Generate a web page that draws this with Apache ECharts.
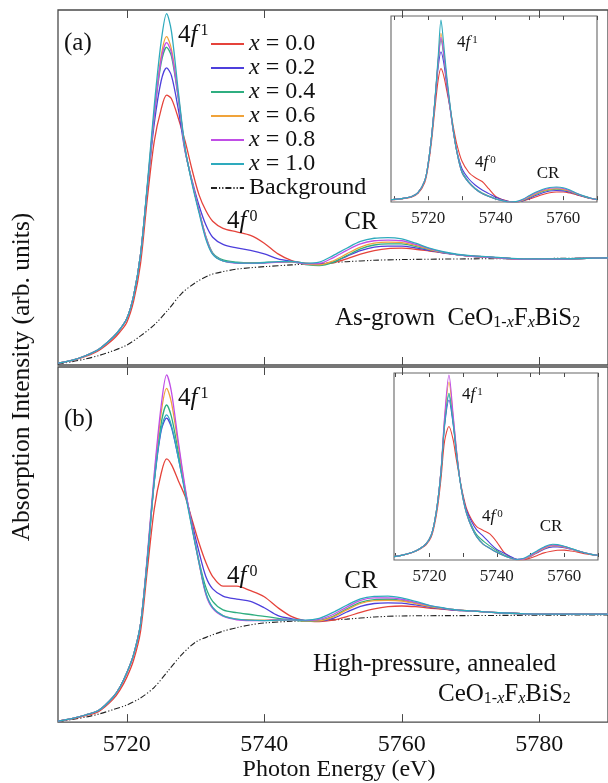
<!DOCTYPE html>
<html><head><meta charset="utf-8">
<script src="https://cdn.jsdelivr.net/npm/echarts@6/dist/echarts.min.js"></script>
<style>html,body{margin:0;padding:0;background:#fff}#c{width:608px;height:783px}</style>
</head><body><div id="c"></div>
<script>
const FONT = '"Liberation Serif","Times New Roman",serif';
const xTicksMain = [5720, 5740, 5760, 5780];
const xTicksInset = [5710, 5720, 5730, 5740, 5750, 5760, 5770];
const xLabelsInset = [5720, 5740, 5760];
const compositions = ['0.0', '0.2', '0.4', '0.6', '0.8', '1.0'];
const colors = ['#e5433b', '#4d3fdc', '#2fae80', '#f0a33a', '#c04ee6', '#2eaabd'];

const energyMain = [5710, 5712, 5714, 5716, 5718, 5719, 5720, 5721, 5722, 5723, 5724, 5725, 5725.8, 5726.5, 5727.5, 5728.5, 5729.5, 5730.5, 5731.5, 5732.5, 5734, 5736, 5738, 5740, 5742, 5744, 5746, 5748, 5750, 5752, 5754, 5756, 5758, 5760, 5762, 5764, 5766, 5768, 5770, 5774, 5778, 5782, 5786, 5790];
const energyBg = [5710, 5712, 5714, 5716, 5718, 5720, 5722, 5724, 5726, 5728, 5730, 5732, 5734, 5736, 5738, 5740, 5744, 5748, 5752, 5756, 5760, 5770, 5780, 5790];

// Panel (a): as-grown
const a_x00 = [0.5, 1.2, 2.4, 4.2, 7.2, 9.3, 12, 18, 28.5, 47, 63, 72, 76, 75, 69.5, 63, 55, 48, 43.5, 40.5, 38.5, 37.5, 36.5, 34.3, 31.3, 29.4, 28.7, 28.5, 28.8, 29.9, 31.2, 32.2, 32.8, 32.9, 32.6, 32.1, 31.6, 31.1, 30.7, 30.2, 29.8, 29.8, 30.0, 30.2];
const a_x02 = [0.5, 1.3, 2.6, 4.5, 7.8, 10, 13, 19.5, 31, 50, 68, 80, 83.7, 81.5, 72, 60, 52, 45, 39.5, 36, 34, 33, 32.3, 31.3, 29.9, 29.2, 28.5, 28.4, 29.0, 30.6, 32.2, 33.2, 33.5, 33.5, 33.0, 32.3, 31.6, 31.1, 30.7, 30.2, 29.8, 29.8, 30.0, 30.2];
const a_x04 = [0.5, 1.3, 2.6, 4.5, 7.8, 10, 13, 19.5, 31, 50, 70, 85, 89.5, 87, 75, 60.5, 51.5, 43.5, 36.3, 31.6, 29.6, 29.0, 28.8, 28.9, 29.0, 29.0, 28.3, 28.0, 28.9, 30.8, 32.7, 33.8, 34.1, 34.1, 33.4, 32.5, 31.7, 31.1, 30.7, 30.2, 29.8, 29.8, 30.0, 30.2];
const a_x06 = [0.5, 1.3, 2.6, 4.5, 7.8, 10, 13, 19.5, 31, 50.5, 71, 87, 92.5, 89, 76, 60.5, 51.5, 43.5, 36, 31.3, 29.3, 28.8, 28.7, 28.8, 29.0, 29.1, 28.4, 28.2, 29.3, 31.3, 33.2, 34.3, 34.6, 34.5, 33.7, 32.6, 31.7, 31.1, 30.7, 30.2, 29.8, 29.8, 30.0, 30.2];
const a_x08 = [0.5, 1.3, 2.6, 4.5, 7.8, 10, 13, 19.5, 31, 50.5, 70.5, 86, 90.8, 88, 75.5, 60.5, 51.5, 43.5, 36, 31.3, 29.3, 28.7, 28.6, 28.7, 29.0, 29.1, 28.5, 28.6, 30.2, 32.3, 34.1, 35.0, 35.2, 35.0, 34.0, 32.8, 31.8, 31.1, 30.7, 30.2, 29.8, 29.8, 30.0, 30.2];
const a_x10 = [0.5, 1.3, 2.6, 4.5, 7.8, 10, 13, 19.5, 31, 51, 73, 91, 99, 94, 77, 61, 51, 43, 35.5, 31.2, 29.3, 28.8, 28.7, 28.8, 29.1, 29.2, 28.7, 29.0, 30.8, 32.9, 34.8, 35.7, 35.9, 35.5, 34.3, 32.9, 31.9, 31.2, 30.8, 30.3, 29.9, 29.9, 30.0, 30.2];
const a_bg = [0.3, 0.9, 1.7, 2.7, 4.0, 5.6, 8.2, 11.3, 15.5, 20.2, 23.2, 25.3, 26.3, 27.0, 27.4, 27.7, 28.2, 28.6, 29.1, 29.5, 29.7, 29.9, 30.0, 30.1];

// Panel (b): high-pressure, annealed
const b_x00 = [0.3, 0.9, 1.8, 3.1, 6.4, 9.0, 12.6, 17.5, 25.5, 43, 60, 70, 74.1, 72.5, 68, 63.5, 57, 50.5, 45, 41, 38.3, 38.3, 37, 35.3, 32.2, 29.7, 28.5, 28.3, 28.7, 29.7, 30.9, 31.9, 32.5, 32.7, 32.5, 32.1, 31.8, 31.5, 31.3, 30.8, 30.5, 30.4, 30.4, 30.4];
const b_x02 = [0.3, 1.0, 2.0, 3.4, 7.0, 9.8, 13.8, 19, 27.5, 46, 67.5, 82, 85.6, 83, 74.5, 65, 56, 48, 41, 37.5, 35.5, 34.6, 34.0, 32.2, 30.0, 29.1, 28.6, 28.5, 29.2, 31.0, 32.6, 33.4, 33.6, 33.5, 33.0, 32.4, 31.9, 31.5, 31.3, 30.8, 30.5, 30.4, 30.4, 30.4];
const b_x04 = [0.3, 1.0, 2.0, 3.4, 7.0, 9.8, 13.8, 19, 27.5, 46, 68, 84, 89.3, 86, 76, 65, 55, 45.5, 38, 34, 31.6, 30.8, 30.3, 29.8, 29.2, 28.8, 28.4, 28.6, 29.8, 31.9, 33.7, 34.5, 34.6, 34.3, 33.5, 32.6, 32.0, 31.6, 31.3, 30.8, 30.5, 30.4, 30.4, 30.4];
const b_x06 = [0.3, 1.0, 2.0, 3.4, 7.0, 9.8, 13.8, 19, 27.5, 46.5, 69, 87, 94, 90, 78, 65.5, 55, 45, 36.3, 32.2, 30.0, 29.0, 28.8, 28.7, 28.8, 28.8, 28.5, 28.5, 29.6, 31.6, 33.4, 34.2, 34.3, 34.1, 33.4, 32.6, 32.0, 31.6, 31.3, 30.8, 30.5, 30.4, 30.4, 30.4];
const b_x08 = [0.3, 1.0, 2.0, 3.4, 7.0, 9.8, 13.8, 19, 27.5, 47, 70, 89, 97.8, 93, 79, 66, 55, 45, 36, 32, 29.8, 28.8, 28.6, 28.6, 28.8, 28.8, 28.6, 28.9, 30.3, 32.4, 34.3, 35.0, 35.0, 34.6, 33.7, 32.8, 32.1, 31.6, 31.3, 30.8, 30.5, 30.4, 30.4, 30.4];
const b_x10 = [0.3, 1.0, 2.0, 3.4, 7.0, 9.8, 13.8, 19, 27.5, 46, 68, 82.5, 86.5, 83.5, 74.5, 64.5, 54.5, 45, 36.5, 32.3, 30.0, 29.0, 28.7, 28.6, 28.7, 28.8, 28.7, 29.2, 30.9, 32.9, 34.7, 35.4, 35.5, 35.0, 34.0, 32.9, 32.2, 31.6, 31.3, 30.8, 30.5, 30.4, 30.4, 30.4];
const b_bg = [0.2, 0.7, 1.4, 2.3, 3.5, 4.8, 6.8, 9.8, 14.4, 19.0, 22.5, 24.2, 25.6, 26.6, 27.4, 27.9, 28.4, 28.6, 29.0, 29.6, 29.9, 30.0, 30.1, 30.2];

// Inset (a): background-subtracted
const energyInsetA = [5709, 5712, 5715, 5717, 5719, 5720, 5721, 5722, 5723, 5723.8, 5724.6, 5725.5, 5726.5, 5727.5, 5728.5, 5730, 5732, 5734, 5736, 5738, 5740, 5742, 5744, 5746, 5748, 5750, 5752, 5754, 5756, 5758, 5760, 5762, 5764, 5766, 5768, 5770];
const ia_x00 = [0.2, 0.7, 1.6, 3.6, 9.5, 18, 31.5, 49, 65, 70.8, 67, 59, 49.5, 39, 30, 21, 15, 12, 10, 6, 2, 0.3, -0.7, -1, -0.5, 0.6, 1.8, 3.0, 4.0, 4.4, 4.4, 3.8, 2.8, 1.8, 0.9, 0.3];
const ia_x02 = [0.2, 0.8, 1.8, 4.0, 10.5, 19.5, 34, 53, 72, 79.8, 74, 62, 49, 36.5, 26.5, 17, 11.5, 8, 5.5, 3.5, 1.5, 0.2, -0.8, -1, -0.4, 1.0, 2.6, 4.0, 4.9, 5.2, 5.0, 4.3, 3.1, 2.0, 1.0, 0.3];
const ia_x04 = [0.2, 0.8, 1.8, 4.0, 10.5, 19.5, 34, 53, 74.5, 86.5, 78, 64, 50, 36.5, 26, 15.5, 10, 6.3, 3.8, 2.2, 0.8, -0.2, -1, -1, -0.2, 1.5, 3.2, 4.7, 5.5, 5.9, 5.6, 4.7, 3.3, 2.1, 1.0, 0.3];
const ia_x06 = [0.2, 0.8, 1.8, 4.0, 10.5, 19.5, 34, 53.5, 76, 89.7, 80, 65, 50, 36.5, 26, 15, 9.5, 6, 3.5, 2, 0.6, -0.3, -1, -1, 0, 1.7, 3.5, 5.0, 5.8, 6.1, 5.8, 4.8, 3.4, 2.2, 1.1, 0.3];
const ia_x08 = [0.2, 0.8, 1.8, 4.0, 10.5, 19.5, 34, 53.5, 75, 87.5, 79, 64.5, 50, 36.5, 26, 15, 9.5, 6, 3.5, 2, 0.6, -0.3, -1, -0.9, 0.2, 2.2, 4.0, 5.5, 6.4, 6.7, 6.3, 5.1, 3.6, 2.2, 1.1, 0.3];
const ia_x10 = [0.2, 0.8, 1.8, 4.0, 10.5, 19.5, 34, 54, 78, 96.8, 84, 67, 51, 37, 26, 15, 9.5, 6, 3.5, 2, 0.6, -0.3, -1, -0.8, 0.5, 2.5, 4.4, 5.9, 6.8, 7.1, 6.7, 5.4, 3.7, 2.3, 1.1, 0.3];

// Inset (b): background-subtracted
const energyInsetB = [5709.5, 5712, 5715, 5717, 5719, 5720.5, 5721.5, 5722.5, 5723.5, 5724.5, 5725.8, 5727, 5728, 5729, 5730, 5731, 5732.5, 5734, 5736, 5738, 5740, 5742, 5744, 5746, 5748, 5750, 5752, 5754, 5756.6, 5758, 5760, 5762, 5764, 5766, 5768, 5770];
const ib_x00 = [0.2, 0.9, 2.4, 4.0, 6.5, 10.5, 17, 27.5, 43, 62, 69.8, 63, 52, 42, 33, 26, 20, 16.2, 14.2, 12.2, 8, 2.8, 0, -1.3, -1.4, -0.5, 0.8, 2.2, 3.2, 3.6, 3.7, 3.2, 2.6, 1.8, 1.2, 0.8];
const ib_x02 = [0.2, 1.0, 2.6, 4.3, 7.0, 11.5, 18.5, 30, 47, 70, 84, 71.5, 56, 42, 32, 25, 19, 14.5, 11, 7.3, 4, 2.2, 0.3, -1.2, -1.2, 0.3, 2.3, 4.2, 5.4, 5.4, 5.0, 4.1, 3.1, 2.2, 1.4, 0.9];
const ib_x04 = [0.2, 1.0, 2.6, 4.3, 7.0, 11.5, 18.5, 30, 47, 71.5, 87.5, 73, 56.5, 42, 31.5, 24, 17, 12, 8.5, 5.8, 3.3, 1.2, -0.3, -1.4, -1, 0.8, 3.0, 4.9, 6.3, 6.2, 5.6, 4.5, 3.3, 2.3, 1.4, 0.9];
const ib_x06 = [0.2, 1.0, 2.6, 4.3, 7.0, 11.5, 18.5, 30, 47.5, 73.5, 93.6, 75.5, 57.5, 42, 31, 23.4, 16, 10.9, 6.8, 4.6, 2.5, 0.8, -0.5, -1.5, -1.2, 0.5, 2.6, 4.6, 6.0, 5.9, 5.3, 4.3, 3.2, 2.3, 1.4, 0.9];
const ib_x08 = [0.2, 1.0, 2.6, 4.3, 7.0, 11.5, 18.5, 30, 48, 75, 97.3, 77, 58, 42, 31, 23.4, 16, 10.9, 6.8, 4.6, 2.5, 0.8, -0.5, -1.4, -1, 0.8, 3.0, 5.0, 6.4, 6.2, 5.5, 4.4, 3.3, 2.3, 1.4, 0.9];
const ib_x10 = [0.2, 1.0, 2.6, 4.3, 7.0, 11.5, 18.5, 30, 47, 71, 86.6, 72.5, 56, 41.5, 31, 23.4, 16, 10.9, 6.8, 4.6, 2.5, 0.8, -0.5, -1.3, -0.7, 1.2, 3.4, 5.4, 6.8, 6.6, 5.8, 4.6, 3.4, 2.3, 1.4, 0.9];

const zip = (xs, ys) => xs.map((x, i) => [x, ys[i]]);

function lineSeries(name, idx, xs, ys, color, width, extra) {
  return Object.assign({
    type: 'line', name: name, xAxisIndex: idx, yAxisIndex: idx,
    data: zip(xs, ys), symbol: 'none', showSymbol: false, smooth: 0.3,
    lineStyle: { color: color, width: width }, itemStyle: { color: color },
    animation: false, silent: true
  }, extra || {});
}

const panelA = [a_x00, a_x02, a_x04, a_x06, a_x08, a_x10];
const panelB = [b_x00, b_x02, b_x04, b_x06, b_x08, b_x10];
const insetA = [ia_x00, ia_x02, ia_x04, ia_x06, ia_x08, ia_x10];
const insetB = [ib_x00, ib_x02, ib_x04, ib_x06, ib_x08, ib_x10];

const series = [];
const bgStyle = { color: '#222', width: 1.1, type: [6, 2, 1.2, 2, 1.2, 2] };
series.push(lineSeries('Background', 0, energyBg, a_bg, '#222', 1.1, { lineStyle: bgStyle }));
series.push(lineSeries('Background', 1, energyBg, b_bg, '#222', 1.1, { lineStyle: bgStyle }));
compositions.forEach((c, k) => {
  series.push(lineSeries(c, 0, energyMain, panelA[k], colors[k], 1.3));
  series.push(lineSeries(c, 1, energyMain, panelB[k], colors[k], 1.3));
  series.push(lineSeries(c, 2, energyInsetA, insetA[k], colors[k], 1.1));
  series.push(lineSeries(c, 3, energyInsetB, insetB[k], colors[k], 1.1));
});

const frame = '#4a4a4a';
const plain = v => String(v);
function xAx(grid, pos, min, max, ticks, labels, tickLen, extra) {
  return Object.assign({
    type: 'value', gridIndex: grid, position: pos, min: min, max: max,
    axisLine: { show: false },
    axisTick: { show: true, inside: true, length: tickLen, customValues: ticks, lineStyle: { color: frame, width: 1 } },
    axisLabel: labels ? { show: true, customValues: labels, formatter: plain, fontFamily: FONT, color: '#111', fontSize: 24, margin: 11 } : { show: false },
    splitLine: { show: false }
  }, extra || {});
}
const insetLabel = { show: true, customValues: xLabelsInset, formatter: plain, fontFamily: FONT, color: '#222', fontSize: 17, margin: 8 };

const xAxis = [
  xAx(0, 'bottom', 5710, 5790, xTicksMain, null, 8),
  xAx(1, 'bottom', 5710, 5790, xTicksMain, xTicksMain, 8, {
    name: 'Photon Energy (eV)', nameLocation: 'middle', nameGap: 35,
    nameTextStyle: { fontFamily: FONT, fontSize: 24, color: '#111', padding: [0, 0, 0, 12] }
  }),
  xAx(2, 'bottom', 5709, 5770, xTicksInset, null, 4, { axisLabel: insetLabel }),
  xAx(3, 'bottom', 5709.5, 5770, xTicksInset, null, 4, { axisLabel: insetLabel }),
  xAx(0, 'top', 5710, 5790, xTicksMain, null, 8),
  xAx(1, 'top', 5710, 5790, xTicksMain, null, 8),
  xAx(2, 'top', 5709, 5770, xTicksInset, null, 4),
  xAx(3, 'top', 5709.5, 5770, xTicksInset, null, 4)
];
function yAx(grid, min, max) {
  return { type: 'value', gridIndex: grid, min: min, max: max, axisLine: { show: false }, axisTick: { show: false }, axisLabel: { show: false }, splitLine: { show: false } };
}
const yAxis = [yAx(0, 0, 100), yAx(1, 0, 100), yAx(2, -1, 99), yAx(3, -1.6, 98.4)];

const grid = [
  { left: 58, right: -2, top: 10, height: 355, show: true, borderColor: frame, borderWidth: 1.3, backgroundColor: 'transparent' },
  { left: 58, right: -2, top: 367, height: 356, show: true, borderColor: frame, borderWidth: 1.3, backgroundColor: 'transparent' },
  { left: 391, right: 11, top: 16, height: 186, show: true, borderColor: '#666', borderWidth: 1.1, backgroundColor: '#fff' },
  { left: 394, right: 10, top: 373, height: 187, show: true, borderColor: '#666', borderWidth: 1.1, backgroundColor: '#fff' }
];

function rich(s) {
  return {
    n: { fontFamily: FONT, fontSize: s, fill: '#111' },
    i: { fontFamily: FONT, fontSize: s, fontStyle: 'italic', fill: '#111' },
    sup: { fontFamily: FONT, fontSize: Math.round(s * 0.62), fill: '#111', verticalAlign: 'top', padding: [0, 0, Math.round(s * 0.3), Math.round(s * 0.12)] },
    sub: { fontFamily: FONT, fontSize: Math.round(s * 0.62), fill: '#111', verticalAlign: 'bottom', padding: [Math.round(s * 0.25), 0, 0, 0] },
    subi: { fontFamily: FONT, fontSize: Math.round(s * 0.62), fontStyle: 'italic', fill: '#111', verticalAlign: 'bottom', padding: [Math.round(s * 0.25), 0, 0, 0] }
  };
}
function label(x, y, text, size, align, extra) {
  return Object.assign({
    type: 'text', x: x, y: y, silent: true, z: 100,
    style: { text: text, fontFamily: FONT, fontSize: size, fill: '#111', align: align || 'left', verticalAlign: 'middle', rich: rich(size) }
  }, extra || {});
}
const f1 = '{n|4}{i|f}{sup|1}';
const f0 = '{n|4}{i|f}{sup|0}';
const formula = '{n|CeO}{sub|1-}{subi|x}{n|F}{subi|x}{n|BiS}{sub|2}';

const graphic = [
  label(22, 377, 'Absorption Intensity (arb. units)', 25.5, 'center', { rotation: Math.PI / 2 }),
  label(64, 43, '(a)', 25),
  label(64, 419, '(b)', 25),
  label(178, 35, f1, 25),
  label(178, 398, f1, 25),
  label(227, 221, f0, 25),
  label(227, 576, f0, 25),
  label(361, 222, '{n|CR}', 25, 'center'),
  label(361, 581, '{n|CR}', 25, 'center'),
  label(335, 318, '{n|As-grown  }' + formula, 25),
  label(313, 664, '{n|High-pressure, annealed}', 25),
  label(438, 694, formula, 25),
  label(457, 43, f1, 17),
  label(462, 395, f1, 17),
  label(475, 163, f0, 17),
  label(482, 517, f0, 17),
  label(548, 174, '{n|CR}', 17, 'center'),
  label(551, 527, '{n|CR}', 17, 'center')
];

const chart = echarts.init(document.getElementById('c'), null, { renderer: 'canvas' });
chart.setOption({
  backgroundColor: '#fff',
  animation: false,
  grid: grid, xAxis: xAxis, yAxis: yAxis, series: series, graphic: graphic,
  legend: {
    show: true, orient: 'vertical', left: 210, top: 32, padding: 0, itemGap: 0,
    itemWidth: 33, itemHeight: 12, selectedMode: false,
    itemStyle: { opacity: 0 },
    data: compositions.concat(['Background']),
    formatter: n => n === 'Background' ? n : '{i|x} = ' + n,
    textStyle: { fontFamily: FONT, fontSize: 24, color: '#111', lineHeight: 23.5,
      rich: { i: { fontFamily: FONT, fontSize: 24, fontStyle: 'italic', color: '#111', lineHeight: 23.5 } } }
  }
});
</script>
</body></html>
